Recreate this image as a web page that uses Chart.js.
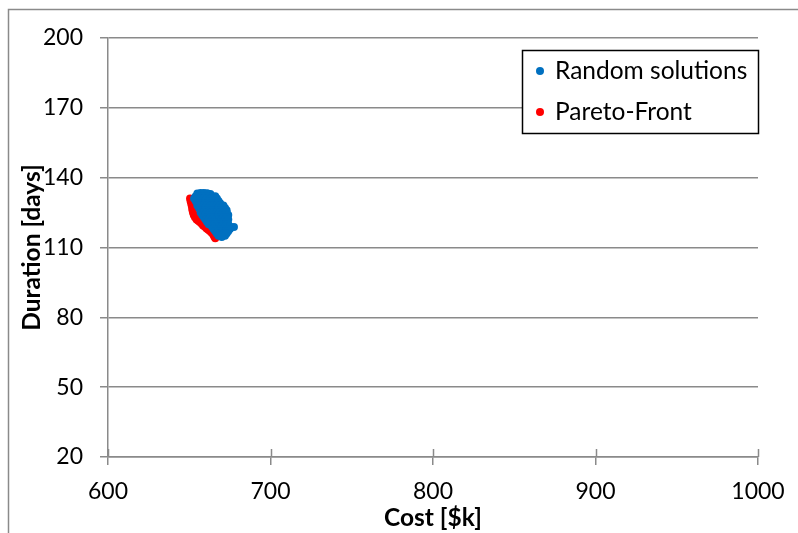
<!DOCTYPE html>
<html>
<head>
<meta charset="utf-8">
<title>Cost vs Duration</title>
<script src="https://cdn.jsdelivr.net/npm/chart.js@4.4.1/dist/chart.umd.min.js"></script>
<style>
  html, body { margin: 0; padding: 0; background: #fff; }
  #wrap { position: relative; width: 798px; height: 533px; }
</style>
</head>
<body>
<div id="wrap"><canvas id="c" width="798" height="533"></canvas></div>
<script>
// Axis ticks
const costTicks = [600, 700, 800, 900, 1000];
const durationTicks = [20, 50, 80, 110, 140, 170, 200];

// Random solutions: cost [$k]
const randomCost = [
  655, 657, 659, 661, 663,
  654, 656, 658, 660, 662, 664, 666,
  653, 655, 657, 659, 661, 663, 665, 667,
  654, 656, 658, 660, 662, 664, 666, 668,
  655, 657, 659, 661, 663, 665, 667, 669,
  655, 657, 659, 661, 663, 665, 667, 669, 671,
  656, 658, 660, 662, 664, 666, 668, 670, 672,
  657, 659, 661, 663, 665, 667, 669, 671, 673,
  657, 659, 661, 663, 665, 667, 669, 671, 673,
  658, 660, 662, 664, 666, 668, 670, 672, 674,
  659, 661, 663, 665, 667, 669, 671, 673,
  660, 662, 664, 666, 668, 670, 672, 674,
  661, 663, 665, 667, 669, 671, 673,
  662, 664, 666, 668, 670, 672, 674,
  664, 666, 668, 670, 672, 675, 677.5,
  665, 667, 669, 671, 673, 675,
  666, 668, 670, 672, 674,
  667, 669, 671, 673,
  668, 670, 672,
  670
];
// Random solutions: duration [days]
const randomDuration = [
  133.2, 133.4, 133.4, 133.3, 133,
  132, 132, 132, 132, 132, 132, 132,
  131, 131, 131, 131, 131, 131, 131, 131,
  130, 130, 130, 130, 130, 130, 130, 130,
  129, 129, 129, 129, 129, 129, 129, 129,
  128, 128, 128, 128, 128, 128, 128, 128, 128,
  127, 127, 127, 127, 127, 127, 127, 127, 127,
  126, 126, 126, 126, 126, 126, 126, 126, 126,
  125, 125, 125, 125, 125, 125, 125, 125, 125,
  124, 124, 124, 124, 124, 124, 124, 124, 124,
  123, 123, 123, 123, 123, 123, 123, 123,
  122, 122, 122, 122, 122, 122, 122, 122,
  121, 121, 121, 121, 121, 121, 121,
  120, 120, 120, 120, 120, 120, 120,
  119, 119, 119, 119, 119, 119, 118.8,
  118, 118, 118, 118, 118, 118,
  117, 117, 117, 117, 117,
  116, 116, 116, 116,
  115, 115, 115,
  114.5
];

// Pareto-Front: cost [$k] and duration [days]
const paretoCost = [
  650.5, 650.8, 651.2, 651.5, 651.8, 652.0, 652.3, 652.8, 653.5, 654.5,
  655.5, 656.5, 657.5, 658.5, 659.5, 660.5, 661.5, 662.5, 663.5, 664.3,
  665.0, 665.5, 666.0
];
const paretoDuration = [
  131.0, 130.0, 129.0, 128.0, 127.0, 126.0, 125.0, 124.0, 123.0, 122.0,
  121.5, 121.0, 120.3, 119.5, 119.0, 118.3, 117.7, 117.2, 116.6, 116.0,
  115.3, 114.6, 114.0
];

const seriesNames = ['Random solutions', 'Pareto-Front'];
const seriesColors = ['#0070c0', '#ff0000'];

const toPoints = (xs, ys) => xs.map((x, i) => ({ x: x, y: ys[i] }));

const FONT = 'Lato, "Open Sans", sans-serif';
const GRID = '#8a8a8a';

// Outer frame lines of the chart object
const framePlugin = {
  id: 'frame',
  beforeDraw(chart) {
    const ctx = chart.ctx;
    ctx.save();
    ctx.strokeStyle = '#8a8a8a';
    ctx.lineWidth = 1.5;
    ctx.beginPath();
    ctx.moveTo(8.5, 533);
    ctx.lineTo(8.5, 9.5);
    ctx.lineTo(798, 9.5);
    ctx.stroke();
    ctx.restore();
  }
};

// Tick marks on the x axis that cross the axis line
const crossTicksPlugin = {
  id: 'crossTicks',
  afterDatasetsDraw(chart) {
    const xs = chart.scales.x;
    const ctx = chart.ctx;
    const base = chart.chartArea.bottom;
    ctx.save();
    ctx.strokeStyle = GRID;
    ctx.lineWidth = 1.5;
    xs.ticks.forEach(t => {
      const px = Math.round(xs.getPixelForValue(t.value)) + 0.5;
      ctx.beginPath();
      ctx.moveTo(px, base - 8);
      ctx.lineTo(px, base);
      ctx.stroke();
    });
    ctx.restore();
  }
};

// Boxed legend inside the plot area, top right
const boxLegendPlugin = {
  id: 'boxLegend',
  afterDraw(chart) {
    const ctx = chart.ctx;
    const area = chart.chartArea;
    const w = 236, h = 83;
    const x0 = area.right - w, y0 = area.top + 12;
    ctx.save();
    ctx.fillStyle = '#fff';
    ctx.fillRect(x0, y0, w, h);
    ctx.strokeStyle = '#000';
    ctx.lineWidth = 1.5;
    ctx.strokeRect(x0 + 0.5, y0 + 0.5, w, h);
    ctx.font = '24.5px ' + FONT;
    ctx.textBaseline = 'middle';
    chart.data.datasets.forEach((ds, i) => {
      const cy = y0 + 21 + i * 41;
      ctx.fillStyle = ds.backgroundColor;
      ctx.beginPath();
      ctx.arc(x0 + 18, cy, 4, 0, Math.PI * 2);
      ctx.fill();
      ctx.fillStyle = '#000';
      ctx.fillText(ds.label, x0 + 33, cy);
    });
    ctx.restore();
  }
};

new Chart(document.getElementById('c'), {
  type: 'scatter',
  data: {
    datasets: [
      {
        label: seriesNames[0],
        data: toPoints(randomCost, randomDuration),
        backgroundColor: seriesColors[0],
        borderColor: seriesColors[0],
        pointRadius: 4,
        borderWidth: 0
      },
      {
        label: seriesNames[1],
        data: toPoints(paretoCost, paretoDuration),
        backgroundColor: seriesColors[1],
        borderColor: seriesColors[1],
        pointRadius: 4,
        borderWidth: 0
      }
    ]
  },
  options: {
    responsive: false,
    animation: false,
    layout: { padding: { top: 38, right: 40, bottom: 0, left: 0 } },
    plugins: {
      legend: { display: false },
      tooltip: { enabled: false }
    },
    scales: {
      x: {
        type: 'linear',
        min: costTicks[0],
        max: costTicks[costTicks.length - 1],
        afterBuildTicks(scale) { scale.ticks = costTicks.map(v => ({ value: v })); },
        afterFit(scale) { scale.height = 76; },
        border: { display: true, color: GRID, width: 1.5 },
        grid: { display: true, drawOnChartArea: false, drawTicks: true, tickLength: 8, color: GRID, lineWidth: 1.5 },
        ticks: {
          color: '#000',
          font: { family: FONT, size: 23 },
          padding: 13,
          callback: v => String(v)
        },
        title: {
          display: true,
          text: 'Cost [$k]',
          color: '#000',
          font: { family: FONT, size: 24.5, weight: 'bold' },
          padding: { top: 0, bottom: 0 }
        }
      },
      y: {
        type: 'linear',
        min: durationTicks[0],
        max: durationTicks[durationTicks.length - 1],
        afterBuildTicks(scale) { scale.ticks = durationTicks.map(v => ({ value: v })); },
        afterFit(scale) { scale.width = 108; },
        border: { display: true, color: GRID, width: 1.5 },
        grid: { display: true, drawOnChartArea: true, drawTicks: true, tickLength: 8, color: GRID, lineWidth: 1.5 },
        ticks: {
          color: '#000',
          font: { family: FONT, size: 23 },
          padding: 17,
          callback: v => String(v)
        },
        title: {
          display: true,
          text: 'Duration [days]',
          color: '#000',
          font: { family: FONT, size: 24.5, weight: 'bold' },
          padding: { top: 17, bottom: 0 }
        }
      }
    }
  },
  plugins: [framePlugin, crossTicksPlugin, boxLegendPlugin]
});
</script>
</body>
</html>
